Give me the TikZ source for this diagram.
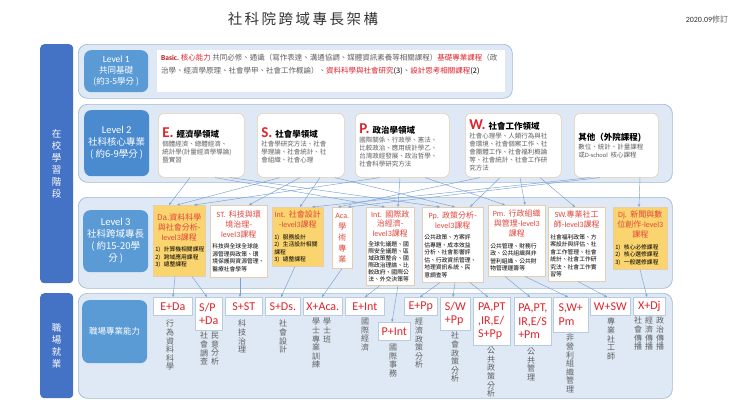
\documentclass[tikz,border=0pt]{standalone}
\usepackage{fontspec}
\setmainfont{Noto Sans CJK TC}
\newfontfamily\latf{Carlito}
\usetikzlibrary{arrows.meta,calc}
\definecolor{barblue}{RGB}{68,114,196}
\definecolor{lblblue}{RGB}{91,155,213}
\definecolor{lbltwo}{RGB}{74,138,206}
\definecolor{contfill}{RGB}{222,233,245}
\definecolor{contline}{RGB}{160,185,215}
\definecolor{tanline}{RGB}{230,205,175}
\definecolor{gold}{RGB}{250,212,110}
\definecolor{redt}{RGB}{225,35,45}
\definecolor{redd}{RGB}{190,20,30}
\definecolor{redl}{RGB}{225,70,60}
\definecolor{grayt}{RGB}{95,95,95}
\definecolor{titc}{RGB}{50,50,50}
\definecolor{connc}{RGB}{120,160,210}
\definecolor{cline}{RGB}{185,203,225}
\newcommand\boxat[7]{\node[#6, anchor=north west, minimum width=#4-#2, minimum height=#5-#3] (#1) at (#2,#3) {#7};}
\begin{document}
\begin{tikzpicture}[x=1pt,y=-1pt,
  bar/.style={fill=barblue, rounded corners=4pt, text=white, align=center, font=\fontsize{9.5}{12}\selectfont},
  cont/.style={fill=contfill, draw=contline, line width=0.7pt, rounded corners=9pt},
  lbl/.style={fill=lblblue, rounded corners=7pt, text=white, align=center, inner sep=1pt},
  l2box/.style={fill=white, draw=tanline, line width=0.6pt, rounded corners=6pt, inner xsep=4pt, inner ysep=2pt, align=left, font=\fontsize{8.5}{10}\selectfont},
  l3y/.style={fill=gold, draw=tanline, line width=0.5pt, inner xsep=2pt, inner ysep=1pt},
  l3w/.style={fill=white, draw=tanline, line width=0.5pt, inner xsep=2pt, inner ysep=1pt},
  cbox/.style={fill=white, draw=cline, line width=0.6pt, text=redt, font=\latf\fontsize{12}{13.5}\selectfont, align=left, inner sep=1pt},
  vt/.style={text=grayt, font=\fontsize{8}{8.6}\selectfont, align=center, inner sep=0pt, anchor=north},
  conn/.style={draw=connc, line width=0.45pt, -{Stealth[length=3pt,width=2.4pt]}},
]
\useasboundingbox (0,0) rectangle (740,416);
% title
\node[font=\fontsize{14.5}{15}\selectfont, text=titc] (title) at (303,19) {社\hspace{2.5pt}科\hspace{2.5pt}院\hspace{2.5pt}跨\hspace{2.5pt}域\hspace{2.5pt}專\hspace{2.5pt}長\hspace{2.5pt}架\hspace{2.5pt}構};
\node[font=\fontsize{8}{8}\selectfont, text=titc] (date) at (707,19) {{\latf 2020.09}{\color{grayt}修訂}};
% side bars
\boxat{bar1}{40}{44}{73}{283}{bar}{在\\校\\學\\習\\階\\段}
\boxat{bar2}{40}{293}{73}{398}{bar}{職\\場\\就\\業}
% containers
\boxat{c1}{78}{44}{512}{98}{cont}{}
\boxat{c2}{78}{104}{672}{182}{cont}{}
\boxat{c3}{78}{197}{672}{288}{cont}{}
\boxat{c4}{78}{293}{672}{398}{cont}{}
% level labels
\boxat{L1}{84}{50}{148}{92}{lbl, font=\fontsize{8.5}{11}\selectfont}{{\latf\fontsize{9.5}{11}\selectfont Level 1}\\共同基礎\\(約3-5學分 )}
\boxat{L2}{84}{110}{149}{176}{lbl, fill=lbltwo, font=\fontsize{9.5}{12}\selectfont}{{\latf\fontsize{10.5}{12}\selectfont Level 2}\\社科核心專業\\( 約6-9學分 )}
\boxat{L3}{83}{210}{148}{272}{lbl, font=\fontsize{9.5}{12}\selectfont}{{\latf\fontsize{10.5}{12}\selectfont Level 3}\\社科跨域專長\\( 約15-20學\\分 )}
\boxat{L4}{82}{300}{147}{363}{lbl, font=\fontsize{8.5}{11}\selectfont}{職場專業能力}
% level 1 text
\boxat{T1}{157}{50}{505}{92}{fill=white, draw=none}{}
\node[anchor=north west, align=left, inner sep=0pt, text=grayt, font=\fontsize{7.5}{13}\selectfont] (T1txt) at (161,54) {{\latf\bfseries\color{redd}Basic.}~{\color{redt}核心能力}~共同必修、通識（寫作表達、溝通協調、媒體資訊素養等相關課程）{\color{redt}基礎專業課程}（政\\治學、經濟學原理、社會學甲、社會工作概論）、{\color{redt}資料科學與社會研究}{\color{black}(3)}、{\color{redt}設計思考相關課程}{\color{black}(2)}};
% level 2 boxes
\boxat{E}{158}{113}{244}{177}{l2box, text width=78pt}{{\latf\bfseries\fontsize{15}{15}\selectfont\color{redt}E.}\hspace{3pt}{\bfseries 經濟學領域}\par\vspace{1pt}{\fontsize{6.5}{8}\selectfont\color{grayt}個體經濟、總體經濟、\\統計學(計量經濟學導論)\\暨實習\par}}
\boxat{S}{257}{113}{344}{177}{l2box, text width=79pt}{{\latf\bfseries\fontsize{15}{15}\selectfont\color{redt}S.}\hspace{3pt}{\bfseries 社會學領域}\par\vspace{1pt}{\fontsize{6.5}{8}\selectfont\color{grayt}社會學研究方法、社會\\學理論、社會統計、社\\會組織、社會心理\par}}
\boxat{P}{355}{113}{449}{177}{l2box, text width=86pt}{{\latf\bfseries\fontsize{15}{15}\selectfont\color{redt}P.}\hspace{3pt}{\bfseries 政治學領域}\par\vspace{1pt}{\fontsize{6.5}{8}\selectfont\color{grayt}國際關係、行政學、憲法、\\比較政治、應用統計學乙、\\台灣政經發展、政治哲學、\\社會科學研究方法\par}}
\boxat{W}{465}{113}{561}{177}{l2box, text width=88pt}{{\latf\bfseries\fontsize{15}{15}\selectfont\color{redt}W.}\hspace{3pt}{\bfseries 社會工作領域}\par\vspace{1pt}{\fontsize{6.5}{8}\selectfont\color{grayt}社會心理學、人類行為與社\\會環境、社會個案工作、社\\會團體工作、社會福利概論\\等、社會統計、社會工作研\\究方法\par}}
\boxat{O}{574}{113}{658}{177}{l2box, text width=76pt}{{\bfseries 其他（外院課程)}\par\vspace{1pt}{\fontsize{6.5}{8}\selectfont\color{grayt}數位、統計、計量課程\\或{\latf D-school}~核心課程\par}}
% level 3 boxes
\boxat{Da}{153}{205}{205}{276}{l3y, text width=48pt}{{\centering\color{redl}\fontsize{8}{10}\selectfont Da.資料科學\\與社會分析-\\{\latf level3}課程\par}\vspace{4pt}{\raggedright\fontsize{5.8}{7.5}\selectfont 1)~計算機相關課程\\2)~跨域應用課程\\3)~總整課程\par}}
\boxat{ST}{210}{205}{267}{277}{l3w, text width=53pt}{{\centering\color{redl}\fontsize{8}{10}\selectfont {\latf ST.}~科技與環\\境治理-\\{\latf level3}課程\par}\vspace{4pt}{\raggedright\fontsize{5.8}{7.5}\selectfont 科技與全球全球能\\源管理與政策、環\\境保護與資源管理、\\醫療社會學等\par}}
\boxat{Ds}{272}{207}{323}{266}{l3y, text width=47pt}{{\centering\color{redl}\fontsize{8}{10}\selectfont {\latf Int.}~社會設計\\-{\latf level3}課程\par}\vspace{4pt}{\raggedright\fontsize{5.8}{7.5}\selectfont 1)~服務設計\\2)~生活設計相關\\課程\\3)~總整課程\par}}
\boxat{Aca}{332}{207}{352}{268}{l3w, text width=18pt, inner xsep=1pt}{{\centering\color{redl}\fontsize{8}{11}\selectfont {\latf Aca.}\\學\\術\\專\\業\par}}
\boxat{Int}{366}{207}{413}{285}{l3w, text width=44pt}{{\centering\color{redl}\fontsize{8}{9.5}\selectfont {\latf Int.}~國際政\\治經濟-\\{\latf level3}課程\par}\vspace{3pt}{\raggedright\fontsize{5.8}{7}\selectfont 全球化議題、國\\際安全議題、區\\域政策整合、國\\際政治理論、比\\較政府、國際公\\法、外交決策等\par}}
\boxat{Pp}{422}{207}{483}{282}{l3w, text width=57pt}{{\centering\color{redl}\fontsize{8}{10}\selectfont {\latf Pp.}~政策分析-\\{\latf level3}課程\par}\vspace{4pt}{\raggedright\fontsize{5.8}{7.5}\selectfont 公共政策、方案評\\估專題、成本效益\\分析、社會影響評\\估、行政資訊管理、\\地理資訊系統、民\\意調查等\par}}
\boxat{Pm}{488}{205}{545}{276}{l3w, text width=53pt}{{\centering\color{redl}\fontsize{8}{10}\selectfont {\latf Pm.}~行政組織\\與管理-{\latf level3}\\課程\par}\vspace{4pt}{\raggedright\fontsize{5.8}{7.5}\selectfont 公共管理、財務行\\政、公共組織與非\\營利組織、公共財\\物管理運籌等\par}}
\boxat{SW}{548}{207}{605}{281}{l3w, text width=53pt}{{\centering\color{redl}\fontsize{8}{10}\selectfont {\latf SW.}專業社工\\師-{\latf level3}課程\par}\vspace{4pt}{\raggedright\fontsize{5.8}{7.5}\selectfont 社會福利政策、方\\案設計與評估、社\\會工作管理、社會\\統計、社會工作研\\究法、社會工作實\\習等\par}}
\boxat{Dj}{613}{207}{667}{269}{l3y, text width=50pt}{{\centering\color{redl}\fontsize{8}{10}\selectfont {\latf Dj.}~新聞與數\\位創作-{\latf level3}\\課程\par}\vspace{4pt}{\raggedright\fontsize{5.8}{7.5}\selectfont 1)~核心必修課程\\2)~核心選修課程\\3)~一般選修課程\par}}
% career boxes
\boxat{EDa}{153}{297}{192}{315}{cbox}{E+Da}
\boxat{SPDa}{195}{297}{222}{330}{cbox}{S/P\\+Da}
\boxat{SST}{225}{297}{262}{315}{cbox}{S+ST}
\boxat{SDs}{265}{297}{300}{315}{cbox}{S+Ds.}
\boxat{XAca}{303}{297}{342}{315}{cbox}{X+Aca.}
\boxat{EInt}{345}{297}{384}{315}{cbox}{E+Int}
\boxat{PInt}{378}{322}{410}{340}{cbox}{P+Int}
\boxat{EPp}{404}{297}{437}{315}{cbox}{E+Pp}
\boxat{SWPp}{440}{297}{470}{330}{cbox}{S/W\\+Pp}
\boxat{PAPp}{473}{297}{510}{345}{cbox}{PA,PT\\,IR,E/\\S+Pp}
\boxat{PAPm}{514}{297}{551}{345}{cbox}{PA,PT,\\IR,E/S\\+Pm}
\boxat{SWPm}{553}{297}{588}{332}{cbox}{S,W+\\Pm}
\boxat{WSW}{590}{297}{630}{315}{cbox}{W+SW}
\boxat{XDj}{633}{297}{665}{315}{cbox}{X+Dj}
% vertical career texts
\node[vt] (v1) at (170,320) {行\\為\\資\\料\\科\\學};
\node[vt] (v2a) at (215,332) {民\\意\\分\\析};
\node[vt] (v2b) at (204,332) {社\\會\\調\\查};
\node[vt] (v3) at (242,320) {科\\技\\治\\理};
\node[vt] (v4) at (283,320) {社\\會\\設\\計};
\node[vt] (v5a) at (327,318) {學\\士\\班};
\node[vt] (v5b) at (316,318) {學\\士\\專\\業\\訓\\練};
\node[vt] (v6) at (365,318) {國\\際\\經\\濟};
\node[vt] (v7) at (393,344) {國\\際\\事\\務};
\node[vt] (v8) at (419,318) {經\\濟\\政\\策\\分\\析};
\node[vt] (v9) at (455,332) {社\\會\\政\\策\\分\\析};
\node[vt] (v10) at (491,347) {公\\共\\政\\策\\分\\析};
\node[vt] (v11) at (531,348) {公\\共\\管\\理};
\node[vt] (v12) at (570,334) {非\\營\\利\\組\\織\\管\\理};
\node[vt] (v13) at (611,318) {專\\業\\社\\工\\師};
\node[vt] (v14a) at (660,317) {政\\治\\傳\\播};
\node[vt] (v14b) at (649,317) {經\\濟\\傳\\播};
\node[vt] (v14c) at (638,317) {社\\會\\傳\\播};
% connectors level 2 -> level 3
\draw[conn] ($(E.south west)+(32,0)$) -- ($(Da.north west)+(16,0)$);
\draw[conn] ($(S.south west)+(23,0)$) -- ($(Da.north west)+(24,0)$);
\draw[conn] ($(P.south west)+(25,0)$) -- ($(Da.north west)+(41,0)$);
\draw[conn] ($(S.south west)+(43,0)$) -- ($(ST.north west)+(39,0)$);
\draw[conn] ($(S.south west)+(63,0)$) -- ($(Ds.north west)+(28,0)$);
\draw[conn] ($(O.south west)+(16,0)$) -- ($(Ds.north west)+(40,0)$);
\draw[conn] ($(W.south west)+(15,0)$) -- ($(Aca.north west)+(6,0)$);
\draw[conn] ($(O.south west)+(26,0)$) -- ($(Aca.north west)+(16,0)$);
\draw[conn] ($(E.south west)+(57,0)$) -- ($(Int.north west)+(19,0)$);
\draw[conn] ($(P.south west)+(45,0)$) -- ($(Int.north west)+(32,0)$);
\draw[conn] ($(E.south west)+(72,0)$) -- ($(Pp.north west)+(18,0)$);
\draw[conn] ($(S.south west)+(78,0)$) -- ($(Pp.north west)+(33,0)$);
\draw[conn] ($(W.south west)+(35,0)$) -- ($(Pp.north west)+(48,0)$);
\draw[conn] ($(P.south west)+(70,0)$) -- ($(Pm.north west)+(17,0)$);
\draw[conn] ($(W.south west)+(55,0)$) -- ($(Pm.north west)+(37,0)$);
\draw[conn] ($(W.south west)+(75,0)$) -- ($(SW.north west)+(27,0)$);
\draw[conn] ($(O.south west)+(66,0)$) -- ($(Dj.north west)+(26,0)$);
% connectors level 3 -> careers
\draw[conn] ($(Da.south west)+(22,0)$) -- ($(EDa.north west)+(20,0)$);
\draw[conn] ($(Da.south west)+(39,0)$) -- ($(SPDa.north west)+(12,0)$);
\draw[conn] ($(ST.south west)+(30,0)$) -- ($(SST.north west)+(15,0)$);
\draw[conn] ($(Ds.south west)+(23,0)$) -- ($(SDs.north west)+(16,0)$);
\draw[conn] ($(Aca.south west)+(10,0)$) -- ($(XAca.north west)+(19,0)$);
\draw[conn] ($(Int.south west)+(14,0)$) -- ($(EInt.north west)+(20,0)$);
\draw[conn] ($(Int.south west)+(32,0)$) -- ($(PInt.north west)+(14,0)$);
\draw[conn] ($(Pp.south west)+(18,0)$) -- ($(EPp.north west)+(16,0)$);
\draw[conn] ($(Pp.south west)+(33,0)$) -- ($(SWPp.north west)+(13,0)$);
\draw[conn] ($(Pp.south west)+(48,0)$) -- ($(PAPp.north west)+(15,0)$);
\draw[conn] ($(Pm.south west)+(17,0)$) -- ($(PAPm.north west)+(16,0)$);
\draw[conn] ($(Pm.south west)+(37,0)$) -- ($(SWPm.north west)+(15,0)$);
\draw[conn] ($(SW.south west)+(30,0)$) -- ($(WSW.north west)+(17,0)$);
\draw[conn] ($(Dj.south west)+(27,0)$) -- ($(XDj.north west)+(14,0)$);
\end{tikzpicture}
\end{document}
